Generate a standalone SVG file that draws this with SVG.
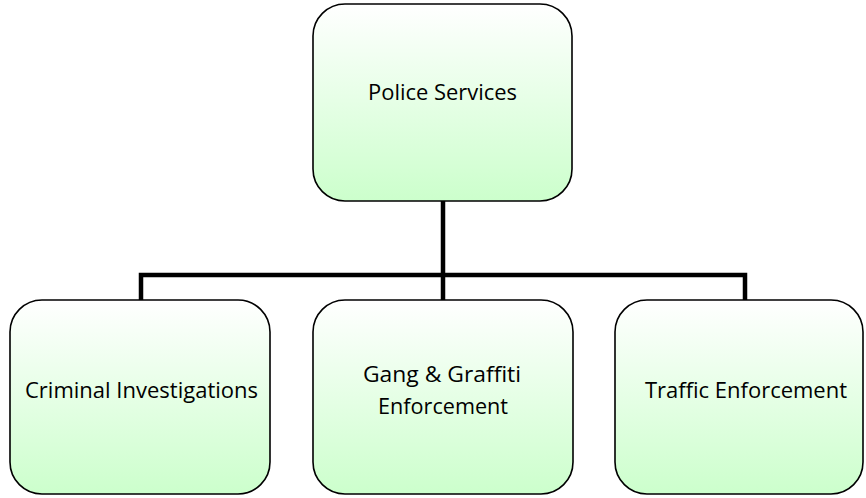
<svg xmlns="http://www.w3.org/2000/svg" width="866" height="498" viewBox="0 0 866 498">
<defs>
<linearGradient id="g" x1="0" y1="0" x2="0" y2="1">
<stop offset="0" stop-color="#ffffff"/>
<stop offset="1" stop-color="#ccffcc"/>
</linearGradient>
<style>
.box{fill:url(#g);stroke:#000;stroke-width:1.6}
.t{font-family:"Open Sans","DejaVu Sans",sans-serif;font-size:21px;fill:#000;text-anchor:middle}
.c{fill:none;stroke:#000;stroke-width:4.5}
</style>
</defs>
<rect width="866" height="498" fill="#fff"/>
<g id="connectors">
<path class="c" d="M443 201 V275 M141 300 V275 H745 V300 M443 275 V300"/>
</g>
<g id="police">
<rect class="box" x="313" y="4" width="259" height="197" rx="32"/>
<text class="t" x="442.5" y="100" textLength="149" lengthAdjust="spacingAndGlyphs">Police Services</text>
</g>
<g id="criminal">
<rect class="box" x="10" y="300" width="260" height="194" rx="32"/>
<text class="t" x="141.5" y="398" textLength="233" lengthAdjust="spacingAndGlyphs">Criminal Investigations</text>
</g>
<g id="gang">
<rect class="box" x="313" y="300" width="260" height="194" rx="32"/>
<text class="t" x="442" y="382" textLength="158" lengthAdjust="spacingAndGlyphs">Gang &amp; Graffiti</text>
<text class="t" x="443" y="414" textLength="130" lengthAdjust="spacingAndGlyphs">Enforcement</text>
</g>
<g id="traffic">
<rect class="box" x="615" y="300" width="248" height="194" rx="32"/>
<text class="t" x="746" y="398" textLength="202" lengthAdjust="spacingAndGlyphs">Traffic Enforcement</text>
</g>
</svg>
